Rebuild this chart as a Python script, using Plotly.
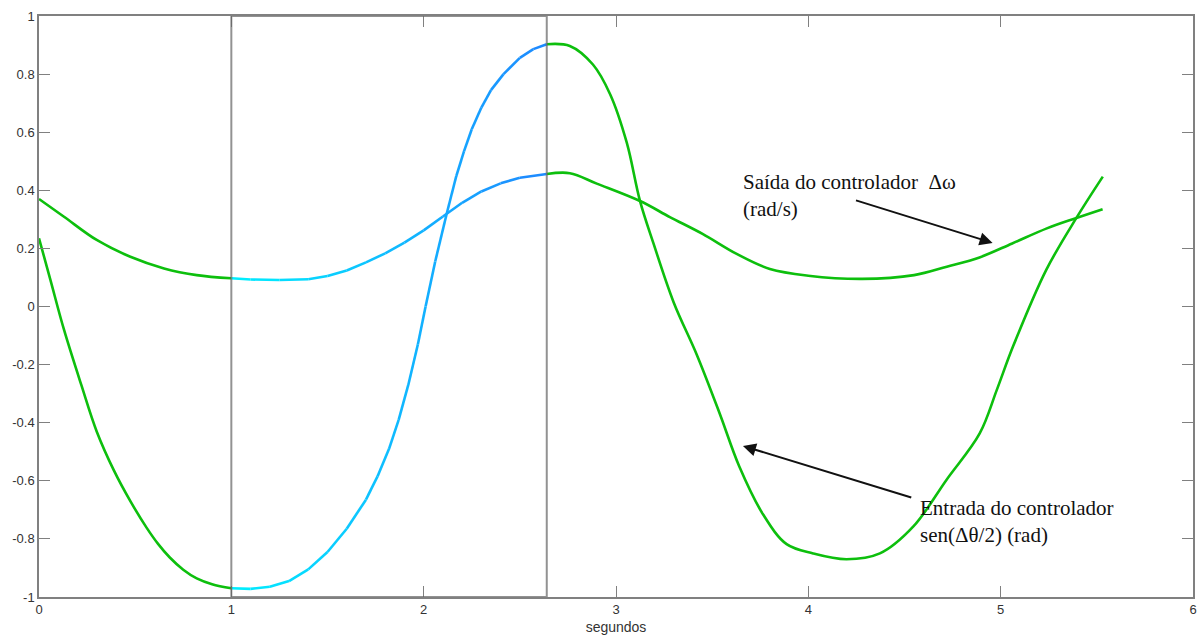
import plotly.graph_objects as go

# Controller output (delta omega, rad/s) over time
t_out = [0.00, 0.13, 0.30, 0.475, 0.65, 0.82, 1.00, 1.10, 1.25, 1.40, 1.50, 1.60, 1.70,
         1.80, 1.90, 2.00, 2.10, 2.20, 2.30, 2.40, 2.50, 2.64, 2.76, 2.90, 3.125, 3.28,
         3.45, 3.63, 3.80, 4.00, 4.28, 4.55, 4.72, 4.89, 5.06, 5.24, 5.39, 5.53]
y_out = [0.370, 0.309, 0.229, 0.171, 0.131, 0.108, 0.097, 0.093, 0.091, 0.094, 0.105, 0.124,
         0.152, 0.183, 0.220, 0.262, 0.310, 0.357, 0.396, 0.424, 0.443, 0.456, 0.459, 0.423,
         0.363, 0.308, 0.250, 0.180, 0.129, 0.106, 0.095, 0.108, 0.137, 0.169, 0.217, 0.269,
         0.304, 0.335]

# Controller input sen(delta theta / 2) over time
t_in = [0.00, 0.06, 0.13, 0.22, 0.30, 0.39, 0.475, 0.56, 0.62, 0.68, 0.75, 0.82, 0.90, 1.00,
        1.10, 1.20, 1.30, 1.40, 1.50, 1.60, 1.70, 1.76, 1.82, 1.87, 1.92, 1.97, 2.01, 2.06,
        2.12, 2.17, 2.21, 2.25, 2.30, 2.35, 2.415, 2.50, 2.57, 2.64, 2.76, 2.88, 2.97, 3.056,
        3.125, 3.194, 3.30, 3.42, 3.54, 3.64, 3.765, 3.887, 4.025, 4.198, 4.372, 4.545,
        4.718, 4.891, 4.98, 5.064, 5.237, 5.393, 5.531]
y_in = [0.235, 0.090, -0.080, -0.270, -0.430, -0.565, -0.670, -0.762, -0.818, -0.864, -0.906,
        -0.936, -0.956, -0.970, -0.972, -0.965, -0.945, -0.905, -0.845, -0.765, -0.665,
        -0.585, -0.490, -0.390, -0.270, -0.130, 0.000, 0.155, 0.320, 0.450, 0.535, 0.610,
        0.685, 0.745, 0.800, 0.856, 0.886, 0.903, 0.897, 0.833, 0.730, 0.564, 0.363, 0.219,
        0.014, -0.166, -0.370, -0.549, -0.716, -0.818, -0.850, -0.870, -0.850, -0.758,
        -0.597, -0.437, -0.287, -0.138, 0.126, 0.304, 0.447]

# Highlighted time window
window_start = 1.0
window_end = 2.64

x_ticks = [0, 1, 2, 3, 4, 5, 6]
x_ticktext = ["0", "1", "2", "3", "4", "5", "6"]
y_ticks = [1, 0.8, 0.6, 0.4, 0.2, 0, -0.2, -0.4, -0.6, -0.8, -1]
y_ticktext = ["1", "0.8", "0.6", "0.4", "0.2", "0", "-0.2", "-0.4", "-0.6", "-0.8", "-1"]

GREEN = "#0dbf0d"
CYAN = (0, 240, 255)
BLUE = (30, 136, 255)
LW = 2.6


def window_color(x):
    f = (x - window_start) / (window_end - window_start)
    f = min(max(f, 0.0), 1.0)
    r, g, b = (round(c0 + (c1 - c0) * f) for c0, c1 in zip(CYAN, BLUE))
    return f"rgb({r},{g},{b})"


fig = go.Figure()


def add_curve(ts, ys):
    before = [(t, y) for t, y in zip(ts, ys) if t <= window_start]
    after = [(t, y) for t, y in zip(ts, ys) if t >= window_end]
    inside = [(t, y) for t, y in zip(ts, ys) if window_start <= t <= window_end]
    for part in (before, after):
        fig.add_trace(go.Scatter(
            x=[p[0] for p in part], y=[p[1] for p in part], mode="lines",
            line=dict(color=GREEN, width=LW, shape="spline", smoothing=1.0),
            hoverinfo="skip", showlegend=False))
    # color-graded segments inside the window
    for (t0, y0), (t1, y1) in zip(inside[:-1], inside[1:]):
        fig.add_trace(go.Scatter(
            x=[t0, t1], y=[y0, y1], mode="lines",
            line=dict(color=window_color((t0 + t1) / 2), width=LW),
            hoverinfo="skip", showlegend=False))


add_curve(t_out, y_out)
add_curve(t_in, y_in)

# window frame
fig.add_shape(type="rect", xref="x", yref="y", x0=window_start, x1=window_end, y0=-1, y1=1,
              line=dict(color="rgba(100,100,100,0.7)", width=2), layer="above")

serif = dict(family="Liberation Serif, Times New Roman, serif", size=21, color="#111")
fig.add_annotation(x=3.652, y=0.476, xref="x", yref="y", xanchor="left", yanchor="top",
                   align="left", showarrow=False, font=serif,
                   text="Saída do controlador  Δω<br>(rad/s)")
fig.add_annotation(x=4.572, y=-0.647, xref="x", yref="y", xanchor="left", yanchor="top",
                   align="left", showarrow=False, font=serif,
                   text="Entrada do controlador<br>sen(Δθ/2) (rad)")
fig.add_annotation(x=4.958, y=0.219, ax=4.24, ay=0.367, xref="x", yref="y", axref="x",
                   ayref="y", text="", showarrow=True, arrowhead=2, arrowsize=1.3,
                   arrowwidth=2, arrowcolor="#111")
fig.add_annotation(x=3.66, y=-0.48, ax=4.543, ay=-0.659, xref="x", yref="y", axref="x",
                   ayref="y", text="", showarrow=True, arrowhead=2, arrowsize=1.3,
                   arrowwidth=2, arrowcolor="#111")

axis_common = dict(showline=True, linecolor="#808080", linewidth=1.5, mirror="ticks",
                   ticks="inside", ticklen=11, tickcolor="#808080", tickwidth=1.2,
                   showgrid=False, zeroline=False, automargin=False,
                   tickfont=dict(family="Liberation Sans, Arial, sans-serif", size=13,
                                 color="#333"))

fig.update_layout(
    width=1198, height=635,
    margin=dict(l=39, r=5, t=16, b=38),
    paper_bgcolor="white", plot_bgcolor="white",
    xaxis=dict(range=[0, 6], tickvals=x_ticks, ticktext=x_ticktext,
               title=dict(text="segundos", standoff=9,
                          font=dict(family="Liberation Sans, Arial, sans-serif", size=14,
                                    color="#333")),
               **axis_common),
    yaxis=dict(range=[-1, 1], tickvals=y_ticks, ticktext=y_ticktext, **axis_common),
)

fig.write_html("out.html")
